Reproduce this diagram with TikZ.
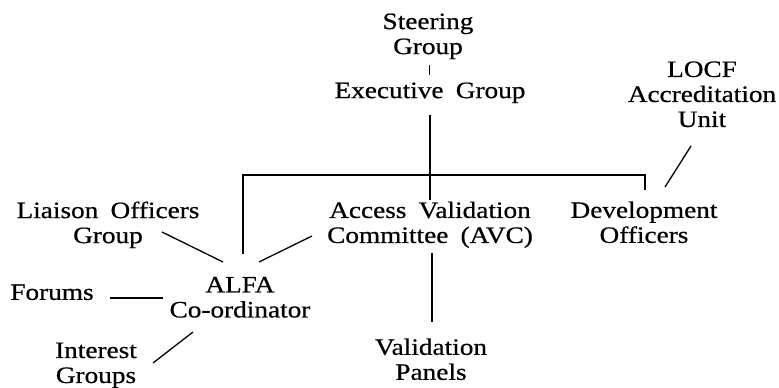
\documentclass[tikz,border=0pt]{standalone}
\usepackage{fontspec}
\setmainfont[FakeStretch=1.16,WordSpace=1.8,FakeBold=0.6]{Liberation Serif}
\begin{document}
\begin{tikzpicture}[x=1pt,y=-1pt,
  lbl/.style={inner sep=0pt, align=center, font=\fontsize{23.5}{25}\selectfont},
  conn/.style={line width=1.3pt}]
\useasboundingbox (0,0) rectangle (779,388);
% labels
\node[lbl] (steer) at (428,36.3) {Steering\\Group};
\node[lbl] (exec) at (430,92.8) {Executive Group};
\node[lbl] (locf) at (702,94.3) {LOCF\\Accreditation\\Unit};
\node[lbl] (liaison) at (108,224.8) {Liaison Officers\\Group};
\node[lbl] (avc) at (430,224.8) {Access Validation\\Committee (AVC)};
\node[lbl] (dev) at (644,222.3) {Development\\Officers};
\node[lbl] (alfa) at (240,297.3) {ALFA\\Co-ordinator};
\node[lbl] (forums) at (52,292.3) {Forums};
\node[lbl] (interest) at (96,365.3) {Interest\\Groups};
\node[lbl] (valid) at (431,359.3) {Validation\\Panels};
% connector end points
\coordinate (tickA) at (429,65);
\coordinate (tickB) at (429,75);
\coordinate (execB) at (430,115);
\coordinate (execE) at (430,200);
\coordinate (busL) at (243,175);
\coordinate (busR) at (645,175);
\coordinate (alfaTop) at (243,254);
\coordinate (devTop) at (645,190);
\coordinate (locfA) at (691,146);
\coordinate (locfB) at (665,187);
\coordinate (liaA) at (162,232);
\coordinate (liaB) at (223,262);
\coordinate (avcA) at (259,262);
\coordinate (avcB) at (312,236);
\coordinate (forA) at (110,298);
\coordinate (forB) at (163,298);
\coordinate (intA) at (193,332);
\coordinate (intB) at (153,363);
\coordinate (valA) at (432,253);
\coordinate (valB) at (432,322);
% connectors
\draw[conn,line width=1pt] (tickA) -- (tickB);
\draw[conn] (execB) -- (execE);
\draw[conn] (alfaTop) -- (busL) -- (busR) -- (devTop);
\draw[conn] (locfA) -- (locfB);
\draw[conn] (liaA) -- (liaB);
\draw[conn] (avcA) -- (avcB);
\draw[conn] (forA) -- (forB);
\draw[conn] (intA) -- (intB);
\draw[conn] (valA) -- (valB);
\end{tikzpicture}
\end{document}
